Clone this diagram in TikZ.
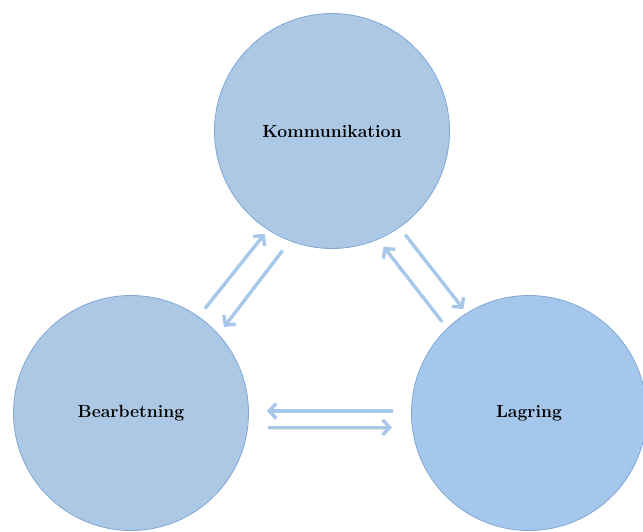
\documentclass[tikz,border=0pt]{standalone}
\usepackage{tikz}
\usetikzlibrary{arrows.meta}
\definecolor{circfill}{HTML}{ADC8E5}
\definecolor{circfillR}{HTML}{A6C7EC}
\definecolor{circline}{HTML}{7FA7D6}
\definecolor{flowblue}{HTML}{A8C8EB}

\begin{document}
\begin{tikzpicture}[x=1pt,y=-1pt,
flow/.style={-{Straight Barb[length=7pt,width=15pt]},draw=flowblue,line width=3.4pt,
preaction={draw=black!40,opacity=0.25,transform canvas={shift={(0.8pt,-1.4pt)}}}},
stage node/.style={circle,draw=circline,line width=0.8pt,fill=circfill,inner sep=0pt,
minimum size=235pt,font=\fontsize{17.6}{21}\selectfont\bfseries}]
\useasboundingbox (0,0) rectangle (643,532);

\node[stage node] (komm) at (332,131) {Kommunikation};
\node[stage node] (bearb) at (131,413) {Bearbetning};
\node[stage node,fill=circfillR] (lag) at (529,413) {Lagring};

\path
(bearb.55) edge[flow,shorten <=10pt,shorten >=5pt] (komm.237)
(komm.249) edge[flow,shorten <=12pt,shorten >=9pt] (bearb.42)
(lag.134)  edge[flow,shorten <=8pt,shorten >=9pt] (komm.293)
(komm.305) edge[flow,shorten <=9pt,shorten >=5pt] (lag.122)
(lag.179)  edge[flow,shorten <=18pt,shorten >=18pt] (bearb.1)
(bearb.353) edge[flow,shorten <=20pt,shorten >=20pt] (lag.187);

\end{tikzpicture}
\end{document}
